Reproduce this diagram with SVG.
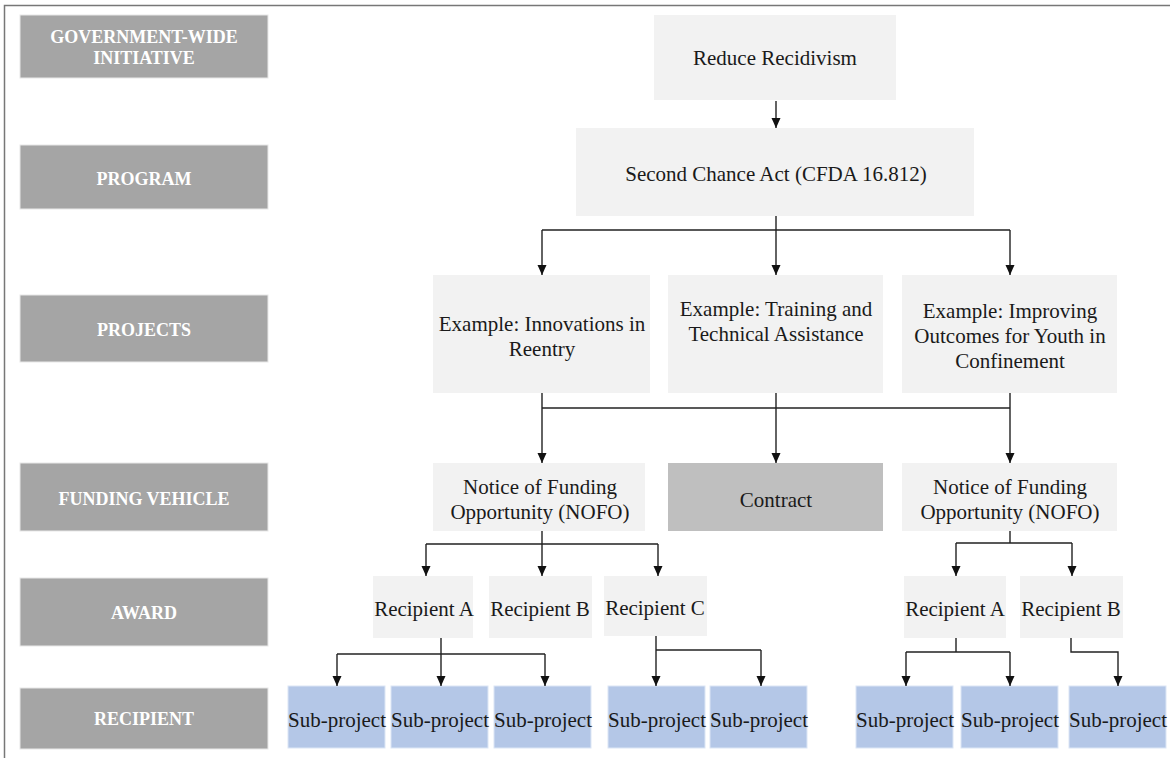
<svg xmlns="http://www.w3.org/2000/svg" width="1170" height="758" viewBox="0 0 1170 758">
<defs>
<marker id="ah" viewBox="0 0 10 10" refX="10" refY="5" markerWidth="10" markerHeight="10" markerUnits="userSpaceOnUse" orient="auto">
<path d="M0,0.5 L10,5 L0,9.5 Z" fill="#111"/>
</marker>
<style>
.lbl{fill:#a5a5a5;stroke:#e8e8e8;stroke-width:1}
.lt{font-family:"Liberation Serif","Times New Roman",serif;font-weight:bold;font-size:18px;fill:#ffffff;text-anchor:middle}
.box{fill:#f2f2f2}
.gray{fill:#bfbfbf}
.sub{fill:#b4c7e7;stroke:#dce6f5;stroke-width:1}
.t{font-family:"Liberation Serif","Times New Roman",serif;font-size:21px;fill:#1a1a1a;text-anchor:middle}
.c{fill:none;stroke:#222;stroke-width:1.4}
.a{marker-end:url(#ah)}
</style>
</defs>
<rect x="0" y="0" width="1170" height="758" fill="#ffffff"/>
<path d="M4.5,758 V5.5 H1170" fill="none" stroke="#777" stroke-width="1.5"/>

<g id="label-initiative"><rect class="lbl" x="20" y="15" width="248" height="63"/><text class="lt" x="144" y="43">GOVERNMENT-WIDE</text><text class="lt" x="144" y="64">INITIATIVE</text></g>
<g id="label-program"><rect class="lbl" x="20" y="145" width="248" height="64"/><text class="lt" x="144" y="185">PROGRAM</text></g>
<g id="label-projects"><rect class="lbl" x="20" y="295" width="248" height="67"/><text class="lt" x="144" y="336">PROJECTS</text></g>
<g id="label-funding"><rect class="lbl" x="20" y="463" width="248" height="68"/><text class="lt" x="144" y="505">FUNDING VEHICLE</text></g>
<g id="label-award"><rect class="lbl" x="20" y="578" width="248" height="68"/><text class="lt" x="144" y="619">AWARD</text></g>
<g id="label-recipient"><rect class="lbl" x="20" y="688" width="248" height="61"/><text class="lt" x="144" y="725">RECIPIENT</text></g>

<g id="n-reduce"><rect class="box" x="654" y="15" width="242" height="85"/><text class="t" x="775" y="65">Reduce Recidivism</text></g>
<g id="n-sca"><rect class="box" x="576" y="128" width="398" height="88"/><text class="t" x="776" y="181">Second Chance Act (CFDA 16.812)</text></g>

<g id="n-innov"><rect class="box" x="433" y="275" width="217" height="118"/><text class="t" x="542" y="331">Example: Innovations in</text><text class="t" x="542" y="356">Reentry</text></g>
<g id="n-training"><rect class="box" x="668" y="275" width="215" height="118"/><text class="t" x="776" y="316">Example: Training and</text><text class="t" x="776" y="341">Technical Assistance</text></g>
<g id="n-youth"><rect class="box" x="902" y="275" width="215" height="118"/><text class="t" x="1010" y="318">Example: Improving</text><text class="t" x="1010" y="343">Outcomes for Youth in</text><text class="t" x="1010" y="368">Confinement</text></g>

<g id="n-nofo1"><rect class="box" x="433" y="463" width="212" height="68"/><text class="t" x="540" y="494">Notice of Funding</text><text class="t" x="540" y="519">Opportunity (NOFO)</text></g>
<g id="n-contract"><rect class="gray" x="668" y="463" width="215" height="68"/><text class="t" x="776" y="507">Contract</text></g>
<g id="n-nofo2"><rect class="box" x="902" y="463" width="215" height="68"/><text class="t" x="1010" y="494">Notice of Funding</text><text class="t" x="1010" y="519">Opportunity (NOFO)</text></g>

<g id="n-recA1"><rect class="box" x="373" y="576" width="100" height="62"/><text class="t" x="424" y="616">Recipient A</text></g>
<g id="n-recB1"><rect class="box" x="489" y="576" width="103" height="62"/><text class="t" x="540" y="616">Recipient B</text></g>
<g id="n-recC1"><rect class="box" x="604" y="576" width="103" height="60"/><text class="t" x="655" y="615">Recipient C</text></g>
<g id="n-recA2"><rect class="box" x="904" y="576" width="102" height="62"/><text class="t" x="955" y="616">Recipient A</text></g>
<g id="n-recB2"><rect class="box" x="1020" y="576" width="103" height="62"/><text class="t" x="1071" y="616">Recipient B</text></g>

<g id="n-sub1"><rect class="sub" x="288" y="686" width="97" height="62"/><text class="t" x="337" y="727">Sub-project</text></g>
<g id="n-sub2"><rect class="sub" x="391" y="686" width="97" height="62"/><text class="t" x="440" y="727">Sub-project</text></g>
<g id="n-sub3"><rect class="sub" x="494" y="686" width="97" height="62"/><text class="t" x="543" y="727">Sub-project</text></g>
<g id="n-sub4"><rect class="sub" x="608" y="686" width="97" height="62"/><text class="t" x="657" y="727">Sub-project</text></g>
<g id="n-sub5"><rect class="sub" x="710" y="686" width="97" height="62"/><text class="t" x="759" y="727">Sub-project</text></g>
<g id="n-sub6"><rect class="sub" x="856" y="686" width="97" height="62"/><text class="t" x="905" y="727">Sub-project</text></g>
<g id="n-sub7"><rect class="sub" x="961" y="686" width="97" height="62"/><text class="t" x="1010" y="727">Sub-project</text></g>
<g id="n-sub8"><rect class="sub" x="1069" y="686" width="97" height="62"/><text class="t" x="1118" y="727">Sub-project</text></g>

<g id="connectors">
<path class="c a" d="M776,101 V128"/>
<path class="c" d="M776,216 V230 M542,230 H1010"/>
<path class="c a" d="M542,230 V275"/>
<path class="c a" d="M776,230 V275"/>
<path class="c a" d="M1010,230 V275"/>
<path class="c" d="M542,408 H1010"/>
<path class="c a" d="M542,393 V463"/>
<path class="c a" d="M776,393 V463"/>
<path class="c a" d="M1010,393 V463"/>
<path class="c" d="M542,531 V544 M426,544 H658"/>
<path class="c a" d="M426,544 V576"/>
<path class="c a" d="M542,544 V576"/>
<path class="c a" d="M658,544 V576"/>
<path class="c" d="M337,654 H545"/>
<path class="c a" d="M441,638 V686"/>
<path class="c a" d="M337,654 V686"/>
<path class="c a" d="M545,654 V686"/>
<path class="c" d="M656,650 H761"/>
<path class="c a" d="M656,636 V686"/>
<path class="c a" d="M761,650 V686"/>
<path class="c" d="M1010,531 V543 M956,543 H1072"/>
<path class="c a" d="M956,543 V576"/>
<path class="c a" d="M1072,543 V576"/>
<path class="c" d="M956,638 V652 M906,652 H1010"/>
<path class="c a" d="M906,652 V686"/>
<path class="c a" d="M1010,652 V686"/>
<path class="c a" d="M1071,638 V652 H1118 V686"/>
</g>
</svg>
